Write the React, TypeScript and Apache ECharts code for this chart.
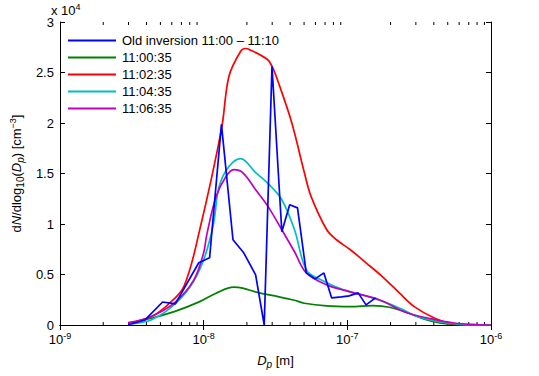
import React, { useEffect, useRef } from "react";
import * as echarts from "echarts";

// Diameters [m] and concentrations dN/dlog10(Dp) [cm^-3]
const oldInvD = [2.99e-9, 3.91e-9, 5.18e-9, 6.35e-9, 9.25e-9, 1.1e-8, 1.33e-8, 1.6e-8, 1.9e-8, 2.3e-8, 2.64e-8, 2.99e-8, 3.5e-8, 3.97e-8, 4.5e-8, 5.18e-8, 5.97e-8, 6.87e-8, 7.78e-8, 9.1e-8, 1.03e-7, 1.19e-7, 1.35e-7, 1.57e-7];
const oldInvN = [30, 500, 2280, 2085, 6160, 6650, 19860, 8440, 7150, 4970, 0, 25620, 9230, 11900, 11600, 5160, 4570, 5160, 2680, 2780, 2880, 3180, 1990, 2680];

const t0035D = [3.14e-9, 4.3e-9, 6.25e-9, 9.39e-9, 1.22e-8, 1.62e-8, 1.87e-8, 2.4e-8, 3.14e-8, 4.29e-8, 5.02e-8, 7.19e-8, 1.05e-7, 1.5e-7, 1.96e-7, 2.68e-7, 3.44e-7, 4.5e-7, 6.15e-7, 1e-6];
const t0035N = [170, 665, 1320, 2314, 3148, 3744, 3644, 3207, 2880, 2450, 2155, 1887, 1820, 1920, 1760, 1160, 566, 170, 20, 0];

const t0235D = [2.99e-9, 4.3e-9, 5.6e-9, 7.28e-9, 9.39e-9, 1.33e-8, 1.5e-8, 1.81e-8, 1.96e-8, 2.06e-8, 2.77e-8, 2.99e-8, 3.29e-8, 4.1e-8, 5.02e-8, 5.6e-8, 7.19e-8, 8.41e-8, 1.05e-7, 1.35e-7, 1.76e-7, 2.3e-7, 2.94e-7, 4.03e-7, 5.51e-7, 8.41e-7, 1e-6];
const t0235N = [230, 824, 1980, 3803, 9430, 19364, 24626, 27109, 27377, 27307, 26315, 25620, 24130, 20059, 15100, 12710, 9433, 8440, 7450, 6160, 4770, 3180, 1790, 700, 100, 20, 0];

const t0435D = [3.14e-9, 4.3e-9, 5.87e-9, 8.04e-9, 1.0e-8, 1.17e-8, 1.28e-8, 1.5e-8, 1.81e-8, 2.3e-8, 2.81e-8, 3.5e-8, 4.29e-8, 5.18e-8, 6.55e-8, 9.39e-8, 1.5e-7, 2.3e-7, 3.14e-7, 5.02e-7, 6.87e-7, 1e-6];
const t0435N = [100, 500, 1690, 3770, 6450, 10000, 13700, 15690, 16480, 15090, 14000, 12400, 9430, 5460, 4470, 3480, 2680, 1690, 790, 200, 20, 0];

const t0635D = [2.99e-9, 4.3e-9, 6.25e-9, 8.55e-9, 1.0e-8, 1.05e-8, 1.22e-8, 1.43e-8, 1.62e-8, 1.87e-8, 2.3e-8, 2.81e-8, 3.5e-8, 4.29e-8, 5.18e-8, 7.19e-8, 1.05e-7, 1.68e-7, 2.52e-7, 3.85e-7, 5.51e-7, 8.41e-7, 1e-6];
const t0635N = [170, 825, 2185, 4470, 7150, 8900, 12700, 14700, 15390, 15090, 13400, 11720, 9430, 7250, 5160, 3970, 3280, 2480, 1290, 600, 200, 20, 0];

const seriesNames = ["Old inversion 11:00 \u2013 11:10", "11:00:35", "11:02:35", "11:04:35", "11:06:35"];
const seriesColors = ["#0000ff", "#008000", "#ff0000", "#00bfbf", "#bf00bf"];

const yTicks = [0, 5000, 10000, 15000, 20000, 25000, 30000];
const xMin = 1e-9;
const xMax = 1e-6;
const minorTickD = [2, 3, 4, 5, 6, 7, 8, 9].flatMap((m) => [m * 1e-9, m * 1e-8, m * 1e-7]);

const FONT = "'Liberation Sans', Arial, Helvetica, sans-serif";
const FS = 13;

function zip(d: number[], n: number[]) {
  return d.map((x, i) => [x, n[i]]);
}

export default function App() {
  const ref = useRef<HTMLDivElement>(null);
  useEffect(() => {
    if (!ref.current) return;
    document.body.style.margin = "0";
    const chart = echarts.init(ref.current, null, { renderer: "svg" });
    const yMax = yTicks[yTicks.length - 1];
    const supRich = {
      b: { fontSize: FS, fontFamily: FONT, color: "#000", lineHeight: 17 },
      s: { fontSize: 9, fontFamily: FONT, color: "#000", lineHeight: 6, verticalAlign: "top" },
    };
    const datasets = [
      zip(oldInvD, oldInvN),
      zip(t0035D, t0035N),
      zip(t0235D, t0235N),
      zip(t0435D, t0435N),
      zip(t0635D, t0635N),
    ];
    const lineSeries = datasets.map((data, i) => ({
      type: "line",
      name: seriesNames[i],
      data,
      symbol: "none",
      smooth: i === 0 ? false : 0.35,
      z: i === 0 ? 5 : 3,
      lineStyle: { color: seriesColors[i], width: 1.7 },
      itemStyle: { color: seriesColors[i] },
      xAxisIndex: 0,
      yAxisIndex: 0,
    }));
    chart.setOption({
      animation: false,
      textStyle: { fontFamily: FONT },
      grid: { left: 50, right: 48, top: 22, bottom: 51, show: false },
      legend: {
        data: seriesNames,
        orient: "vertical",
        left: 68,
        top: 33,
        padding: 0,
        icon: "rect",
        itemWidth: 48,
        itemHeight: 2,
        itemGap: 2,
        textStyle: { fontSize: FS, color: "#000", fontFamily: FONT, lineHeight: 15, padding: [0, 0, 0, 1] },
      },
      xAxis: [
        {
          type: "log",
          logBase: 10,
          min: xMin,
          max: xMax,
          position: "bottom",
          axisLine: { show: true, lineStyle: { color: "#000", width: 1 } },
          axisTick: { show: true, inside: true, length: 5, lineStyle: { color: "#000" } },
          splitLine: { show: false },
          axisLabel: {
            margin: 6,
            fontSize: FS,
            color: "#000",
            formatter: (v: number) => `{b|10}{s|${Math.round(Math.log10(v))}}`,
            rich: supRich,
          },
          name: "{i|D}{sub|p}{n| [m]}",
          nameLocation: "middle",
          nameGap: 27,
          nameTextStyle: {
            rich: {
              i: { fontSize: FS, fontStyle: "italic", fontFamily: FONT, color: "#000", lineHeight: 17 },
              sub: { fontSize: 10, fontStyle: "italic", fontFamily: FONT, color: "#000", lineHeight: 6, verticalAlign: "bottom" },
              n: { fontSize: FS, fontFamily: FONT, color: "#000", lineHeight: 17 },
            },
          },
        },
        {
          type: "log",
          logBase: 10,
          min: xMin,
          max: xMax,
          position: "top",
          axisLine: { show: true, lineStyle: { color: "#000", width: 1 } },
          axisTick: { show: true, inside: true, length: 5, lineStyle: { color: "#000" } },
          axisLabel: { show: false },
          splitLine: { show: false },
        },
      ],
      yAxis: [
        {
          type: "value",
          min: 0,
          max: yMax,
          interval: 5000,
          position: "left",
          axisLine: { show: true, lineStyle: { color: "#000", width: 1 } },
          axisTick: { show: true, inside: true, length: 5, lineStyle: { color: "#000" } },
          splitLine: { show: false },
          axisLabel: {
            color: "#000",
            fontSize: FS,
            fontFamily: FONT,
            margin: 6,
            formatter: (v: number) => String(v / 1e4),
          },
          name: "{n|d}{i|N}{n|/dlog}{sub|10}{n|(}{i|D}{subi|p}{n|) [cm}{sup|\u22123}{n|]}",
          nameLocation: "middle",
          nameRotate: 90,
          nameGap: 33,
          nameTextStyle: {
            rich: {
              n: { fontSize: FS, fontFamily: FONT, color: "#000", lineHeight: 17 },
              i: { fontSize: FS, fontStyle: "italic", fontFamily: FONT, color: "#000", lineHeight: 17 },
              sub: { fontSize: 10, fontFamily: FONT, color: "#000", lineHeight: 6, verticalAlign: "bottom" },
              subi: { fontSize: 10, fontStyle: "italic", fontFamily: FONT, color: "#000", lineHeight: 6, verticalAlign: "bottom" },
              sup: { fontSize: 9, fontFamily: FONT, color: "#000", lineHeight: 6, verticalAlign: "top" },
            },
          },
        },
        {
          type: "value",
          min: 0,
          max: yMax,
          interval: 5000,
          position: "right",
          axisLine: { show: true, lineStyle: { color: "#000", width: 1 } },
          axisTick: { show: true, inside: true, length: 5, lineStyle: { color: "#000" } },
          axisLabel: { show: false },
          splitLine: { show: false },
        },
      ],
      graphic: [
        {
          type: "text",
          left: 51,
          top: 2,
          style: {
            text: "{b|x 10}{s|4}",
            rich: supRich,
          },
        },
      ],
      series: [
        ...lineSeries,
        {
          type: "custom",
          name: "minorTicks",
          xAxisIndex: 0,
          yAxisIndex: 0,
          silent: true,
          z: 1,
          data: minorTickD.map((d) => [d, 0]),
          renderItem: (_params: any, api: any) => {
            const x = api.value(0);
            const pb = api.coord([x, 0]);
            const pt = api.coord([x, yMax]);
            return {
              type: "group",
              children: [
                { type: "line", shape: { x1: pb[0], y1: pb[1], x2: pb[0], y2: pb[1] - 3 }, style: { stroke: "#000", lineWidth: 1 } },
                { type: "line", shape: { x1: pt[0], y1: pt[1], x2: pt[0], y2: pt[1] + 3 }, style: { stroke: "#000", lineWidth: 1 } },
              ],
            };
          },
        },
      ],
    });
    return () => chart.dispose();
  }, []);
  return <div ref={ref} style={{ width: 539, height: 376 }} />;
}
